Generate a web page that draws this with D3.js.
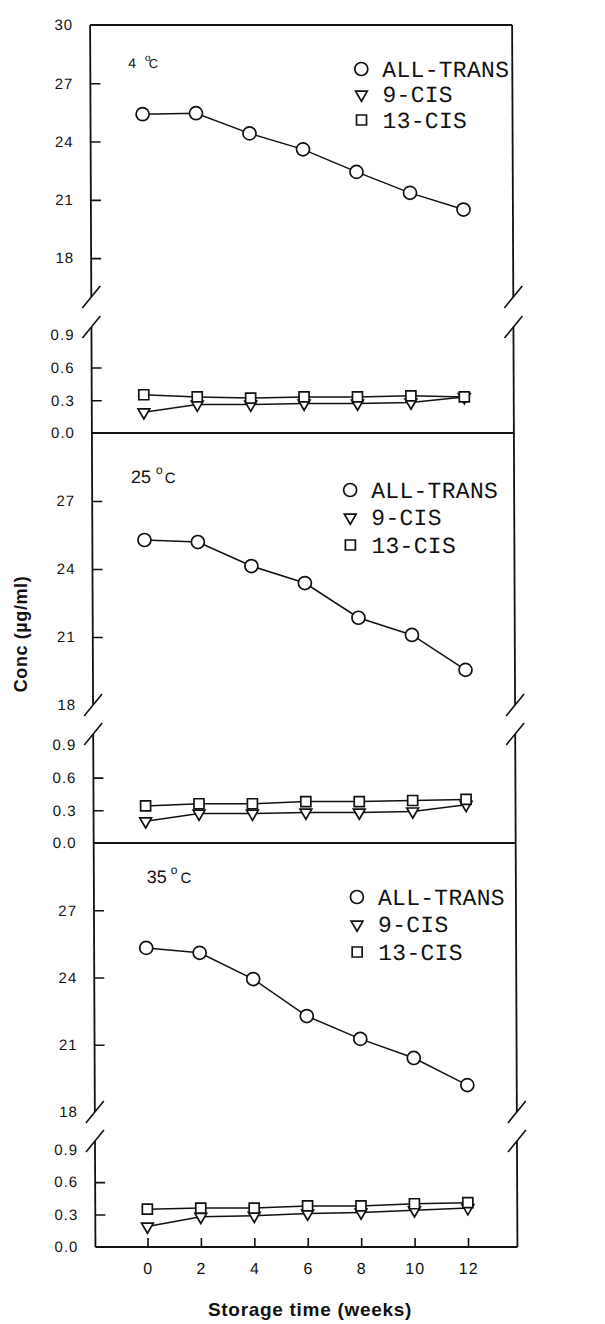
<!DOCTYPE html>
<html>
<head>
<meta charset="utf-8">
<script src="https://cdn.jsdelivr.net/npm/d3@7"></script>
<style>
  body { margin: 0; background: #fff; }
  svg { display: block; }
  .tick text { font-family: "Liberation Sans", Arial, sans-serif; font-size: 15px; letter-spacing: 1px; fill: #111; }
  .tick line { stroke: #111; stroke-width: 1.6; }
  .legend text { font-family: "Liberation Mono", "Courier New", monospace; font-size: 23px; letter-spacing: 0.3px; fill: #111; }
</style>
</head>
<body>
<svg width="605" height="1324"></svg>
<script>
// storage time (weeks) and temperatures
const weeks = [0, 2, 4, 6, 8, 10, 12];
const temps = ["4", "25", "35"];
const seriesNames = ["ALL-TRANS", "9-CIS", "13-CIS"];

// conc (ug/ml)
const allTrans4 = [25.41, 25.46, 24.42, 23.6, 22.44, 21.36, 20.5];
const cis9_4 = [0.19, 0.26, 0.26, 0.27, 0.27, 0.28, 0.33];
const cis13_4 = [0.35, 0.33, 0.32, 0.33, 0.33, 0.34, 0.33];

const allTrans25 = [25.28, 25.19, 24.13, 23.38, 21.85, 21.09, 19.55];
const cis9_25 = [0.20, 0.27, 0.27, 0.28, 0.28, 0.29, 0.35];
const cis13_25 = [0.34, 0.36, 0.36, 0.38, 0.38, 0.39, 0.40];

const allTrans35 = [25.32, 25.1, 23.93, 22.28, 21.26, 20.41, 19.2];
const cis9_35 = [0.19, 0.28, 0.29, 0.31, 0.32, 0.34, 0.36];
const cis13_35 = [0.35, 0.36, 0.36, 0.38, 0.38, 0.40, 0.41];

// tick labels
const upperTicks = [27, 24, 21, 18];
const lowerTicks = [0.9, 0.6, 0.3, 0.0];

const svg = d3.select("svg");
// the scanned figure leans a little to the right
const g = svg.append("g").attr("transform", "skewX(0.25)");

const left = 90, right = 512;
const x = d3.scaleLinear().domain([-1.95, 13.85]).range([left, right]);

const panels = [
  { temp: temps[0], data: [allTrans4, cis9_4, cis13_4], top: 25, bottom: 433,
    upLow: 16, breakU: 297, loHigh: 0.97, breakL: 327,
    legend: { x: 361, y: 77, step: 25.5 },
    label: { x: 128, y: 68, size: 14, oSize: 10, cSize: 13, oDx: 9, cDx: -2, rise: 7 } },
  { temp: temps[1], data: [allTrans25, cis9_25, cis13_25], top: 433, bottom: 843,
    upLow: 18, breakU: 705, loHigh: 1.0, breakL: 734,
    legend: { x: 348, y: 498, step: 27.5 },
    label: { x: 129, y: 483, size: 18, oSize: 12, cSize: 15, oDx: 5, cDx: 2, rise: 9 } },
  { temp: temps[2], data: [allTrans35, cis9_35, cis13_35], top: 843, bottom: 1247,
    upLow: 18, breakU: 1112, loHigh: 0.98, breakL: 1141,
    legend: { x: 353, y: 905, step: 27.5 },
    label: { x: 143, y: 883, size: 18, oSize: 12, cSize: 15, oDx: 4, cDx: 3, rise: 9 } }
];

const symCircle = d3.symbol().type(d3.symbolCircle).size(133)();
const symTri = d3.symbol().type(d3.symbolTriangle).size(60)();
const symSquare = d3.symbol().type(d3.symbolSquare).size(100)();
const shapes = [symCircle, symTri, symSquare];
const rotations = [0, 180, 0];

function drawMarkers(sel, path) {
  sel.attr("d", path)
    .attr("fill", "#fff")
    .attr("stroke", "#111")
    .attr("stroke-width", 1.7);
}

panels.forEach((p, pi) => {
  const pg = g.append("g");
  const yU = d3.scaleLinear().domain([p.upLow, 30]).range([p.breakU, p.top]);
  const yL = d3.scaleLinear().domain([0, p.loHigh]).range([p.bottom, p.breakL]);

  // y axes (upper and lower part)
  const ticksU = (pi === 0 ? [30] : []).concat(upperTicks);
  pg.append("g")
    .attr("transform", "translate(" + left + ",0)")
    .call(d3.axisLeft(yU).tickValues(ticksU).tickSizeInner(-10).tickSizeOuter(0).tickPadding(17))
    .call(a => a.select(".domain").remove())
    .call(a => a.selectAll(".tick line").filter(d => d === 30 || d === p.upLow).remove());

  pg.append("g")
    .attr("transform", "translate(" + left + ",0)")
    .call(d3.axisLeft(yL).tickValues(lowerTicks).tickFormat(d3.format(".1f"))
      .tickSizeInner(-10).tickSizeOuter(0).tickPadding(17))
    .call(a => a.select(".domain").remove())
    .call(a => a.selectAll(".tick line").filter(d => d === 0.9 || d === 0).remove());

  // frame with breaks
  [left, right].forEach(ax => {
    pg.append("line").attr("x1", ax).attr("x2", ax).attr("y1", p.top).attr("y2", p.breakU)
      .attr("stroke", "#111").attr("stroke-width", 1.8);
    pg.append("line").attr("x1", ax).attr("x2", ax).attr("y1", p.breakL).attr("y2", p.bottom)
      .attr("stroke", "#111").attr("stroke-width", 1.8);
    [p.breakU, p.breakL].forEach(by => {
      pg.append("line").attr("x1", ax - 9).attr("y1", by + 11).attr("x2", ax + 9).attr("y2", by - 11)
        .attr("stroke", "#111").attr("stroke-width", 1.6);
    });
  });

  // series
  p.data.forEach((vals, si) => {
    const y = si === 0 ? yU : yL;
    const line = d3.line().x((d, i) => x(weeks[i])).y(d => y(d));
    pg.append("path").datum(vals)
      .attr("d", line)
      .attr("fill", "none")
      .attr("stroke", "#111")
      .attr("stroke-width", 1.5);
  });
  p.data.forEach((vals, si) => {
    const y = si === 0 ? yU : yL;
    pg.selectAll(".m" + si)
      .data(vals)
      .enter().append("path")
      .attr("class", "m" + si)
      .attr("transform", (d, i) => "translate(" + x(weeks[i]) + "," + y(d) + ") rotate(" + rotations[si] + ")")
      .call(drawMarkers, shapes[si]);
  });

  // legend
  const lg = pg.append("g").attr("class", "legend");
  seriesNames.forEach((name, si) => {
    const by = p.legend.y + si * p.legend.step;
    lg.append("path")
      .attr("transform", "translate(" + p.legend.x + "," + (by - 8) + ") rotate(" + rotations[si] + ")")
      .call(drawMarkers, shapes[si]);
    lg.append("text").attr("x", p.legend.x + 21).attr("y", by).text(name);
  });

  // temperature label
  const l = p.label;
  const t = pg.append("text")
    .attr("x", l.x).attr("y", l.y)
    .attr("font-family", "Liberation Sans, Arial, sans-serif")
    .attr("font-size", l.size)
    .attr("fill", "#111");
  t.append("tspan").text(p.temp);
  t.append("tspan").attr("dx", l.oDx).attr("dy", -l.rise).attr("font-size", l.oSize).text("o");
  t.append("tspan").attr("dx", l.cDx).attr("dy", l.rise).attr("font-size", l.cSize).text("C");
});

// horizontal frame lines
[25, 433, 843, 1247].forEach(yy => {
  g.append("line").attr("x1", left).attr("x2", right).attr("y1", yy).attr("y2", yy)
    .attr("stroke", "#111").attr("stroke-width", 1.8);
});

// x axis
g.append("g")
  .attr("transform", "translate(0,1247)")
  .call(d3.axisBottom(x).tickValues(weeks).tickSizeInner(-9).tickSizeOuter(0).tickPadding(16))
  .call(a => a.select(".domain").remove())
  .call(a => a.selectAll(".tick text").style("font-size", "16px"));

// axis titles
svg.append("text")
  .attr("transform", "translate(22,634) rotate(-90)")
  .attr("text-anchor", "middle")
  .attr("dominant-baseline", "middle")
  .attr("font-family", "Liberation Sans, Arial, sans-serif")
  .attr("font-weight", "bold")
  .attr("font-size", 18)
  .attr("letter-spacing", 0.6)
  .attr("fill", "#111")
  .text("Conc (µg/ml)");

svg.append("text")
  .attr("x", 310).attr("y", 1316)
  .attr("text-anchor", "middle")
  .attr("font-family", "Liberation Sans, Arial, sans-serif")
  .attr("font-weight", "bold")
  .attr("font-size", 19)
  .attr("letter-spacing", 0.7)
  .attr("fill", "#111")
  .text("Storage time (weeks)");
</script>
</body>
</html>
